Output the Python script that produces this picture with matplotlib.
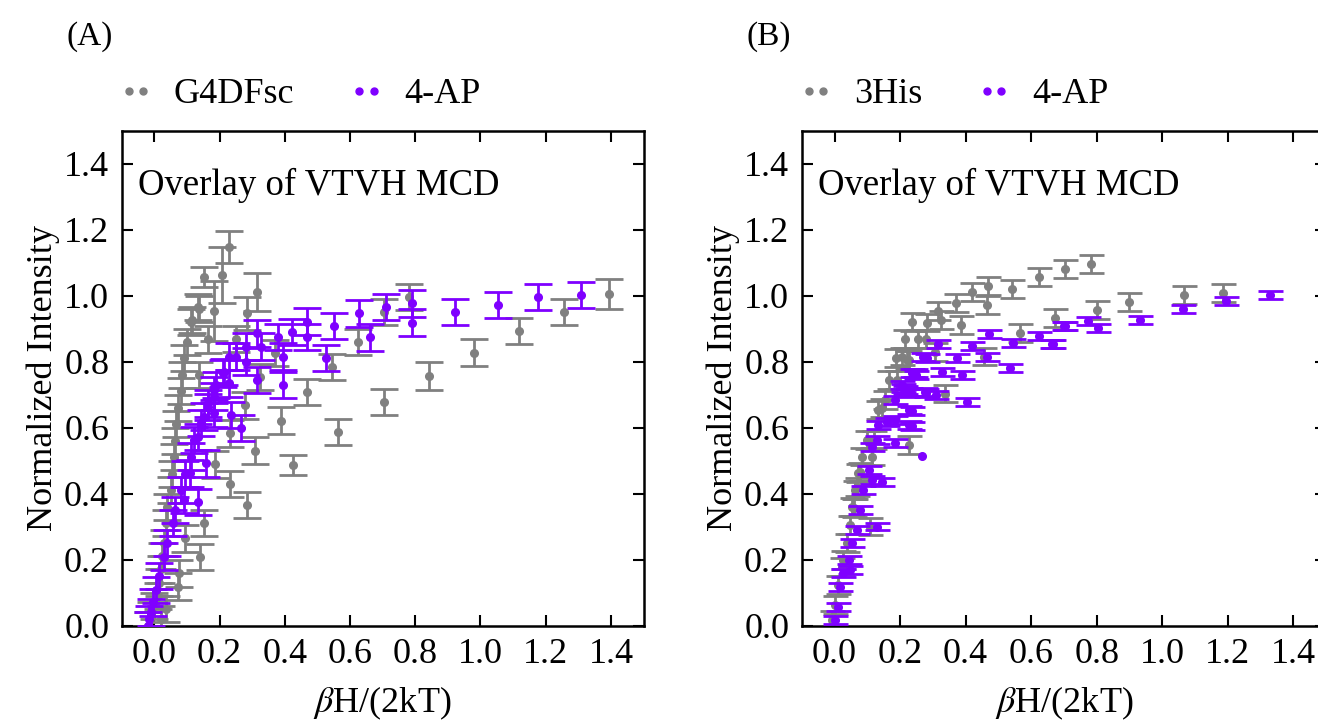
import numpy as np
import matplotlib
matplotlib.use("Agg")
from matplotlib import pyplot as plt
from matplotlib.lines import Line2D

plt.rcParams['font.family'] = ['Liberation Serif', 'DejaVu Serif']
plt.rcParams['mathtext.fontset'] = 'stix'

GREY = '#808080'
PURPLE = '#7f00ff'

# ---- panel A : G4DFsc (grey) ----
a_grey_x = [-0.02, -0.01, 0.0, 0.01, 0.015, 0.02, 0.025, 0.03, 0.036, 0.04, 0.051, 0.055,
            0.061, 0.064, 0.066, 0.072, 0.082, 0.086, 0.092, 0.10, 0.112, 0.133,
            0.072, 0.077, 0.095, 0.02, 0.035,
            0.230, 0.208, 0.153, 0.314, 0.138, 0.184, 0.284, 0.116, 0.164, 0.252, 0.371,
            0.138, 0.324, 0.279, 0.467, 0.389, 0.232, 0.310, 0.563, 0.544, 0.425, 0.187,
            0.233, 0.283, 0.153, 0.141, 0.624, 0.704, 0.704, 0.780, 0.842, 0.980, 1.117,
            1.255, 1.393]
a_grey_y = [0.0, 0.03, 0.06, 0.09, 0.13, 0.17, 0.21, 0.25, 0.31, 0.36, 0.41, 0.46,
            0.51, 0.56, 0.61, 0.66, 0.71, 0.76, 0.81, 0.86, 0.92, 0.966,
            0.118, 0.158, 0.264, 0.02, 0.05,
            1.148, 1.062, 1.057, 1.010, 0.959, 0.953, 0.947, 0.926, 0.867, 0.869, 0.825,
            0.759, 0.754, 0.667, 0.708, 0.621, 0.582, 0.530, 0.586, 0.784, 0.486, 0.488,
            0.428, 0.365, 0.310, 0.208, 0.860, 0.951, 0.677, 0.996, 0.756, 0.827, 0.892,
            0.950, 1.004]
a_grey_err = [0.04] * 27 + [0.049, 0.085, 0.03, 0.058, 0.04, 0.09, 0.05, 0.04, 0.04, 0.04, 0.04,
                            0.04, 0.04, 0.04, 0.04, 0.04, 0.04, 0.04, 0.04, 0.04, 0.03, 0.04,
                            0.04, 0.04, 0.04, 0.04, 0.04, 0.04, 0.04, 0.04, 0.043, 0.04, 0.04,
                            0.04, 0.045]

# ---- panel A : 4-AP (purple) ----
a_pur_x = [-0.02, -0.015, -0.01, -0.005, 0.005, 0.015, 0.031, 0.04, 0.056, 0.065, 0.082,
           0.095, 0.113, 0.123, 0.143, 0.164, 0.184, 0.21, 0.23,
           0.55, 0.527, 0.468, 0.468, 0.421, 0.378, 0.394, 0.394, 0.327, 0.315, 0.315,
           0.281, 0.281, 0.25, 0.215, 0.23, 0.189, 0.184, 0.164, 0.235, 0.266, 0.184,
           0.153, 0.133, 0.158, 0.108, 0.133, 0.092, 0.629, 0.66, 0.711, 0.79, 0.79,
           0.922, 1.053, 1.176, 1.309]
a_pur_y = [0.0, 0.02, 0.04, 0.07, 0.108, 0.15, 0.209, 0.25, 0.31, 0.35, 0.411,
           0.46, 0.512, 0.562, 0.613, 0.663, 0.714, 0.764, 0.815,
           0.908, 0.81, 0.921, 0.875, 0.89, 0.875, 0.815, 0.729, 0.845, 0.885, 0.744,
           0.8, 0.845, 0.815, 0.769, 0.734, 0.729, 0.694, 0.673, 0.638, 0.598, 0.643,
           0.633, 0.572, 0.491, 0.461, 0.375, 0.38, 0.946, 0.873, 0.966, 0.976, 0.918,
           0.951, 0.971, 0.996, 1.002]
a_pur_err = [0.04] * len(a_pur_x)

# ---- panel B : 3His (grey) ----
b_grey_x = [-0.008, 0.002, 0.012, 0.022, 0.027, 0.037, 0.048, 0.053, 0.058, 0.063, 0.068,
            0.073, 0.078, 0.083, 0.099, 0.109, 0.114, 0.119, 0.134, 0.144, 0.153, 0.165,
            0.19, 0.187, 0.206, 0.221, 0.226, 0.226, 0.214, 0.236, 0.254, 0.278, 0.282,
            0.307, 0.317, 0.325, 0.338, 0.371, 0.386, 0.419, 0.455, 0.465, 0.468, 0.543,
            0.566, 0.623, 0.673, 0.704, 0.783, 0.8, 0.9, 1.068, 1.187]
b_grey_y = [0.017, 0.062, 0.123, 0.178, 0.199, 0.249, 0.305, 0.36, 0.355, 0.41, 0.421,
            0.461, 0.466, 0.512, 0.562, 0.3, 0.512, 0.562, 0.653, 0.658, 0.683, 0.744,
            0.744, 0.81, 0.815, 0.805, 0.547, 0.804, 0.868, 0.921, 0.868, 0.868, 0.918,
            0.83, 0.954, 0.926, 0.703, 0.978, 0.911, 1.01, 0.815, 0.971, 1.028, 1.021,
            0.887, 1.055, 0.933, 1.081, 1.095, 0.956, 0.981, 1.001, 1.007]
b_grey_err = [0.027] * len(b_grey_x)

# ---- panel B : 4-AP (purple) ----
b_pur_x = [0.002, 0.012, 0.017, 0.027, 0.043, 0.048, 0.053, 0.068, 0.078, 0.088, 0.104,
           0.114, 0.114, 0.129, 0.129, 0.134, 0.144, 0.16, 0.185, 0.185, 0.185, 0.206,
           0.216, 0.21, 0.221, 0.226, 0.226, 0.231, 0.236, 0.236, 0.236, 0.246, 0.248,
           0.271, 0.277, 0.279, 0.282, 0.309, 0.315, 0.329, 0.373, 0.388, 0.404, 0.421,
           0.465, 0.47, 0.536, 0.546, 0.623, 0.663, 0.668, 0.7, 0.702, 0.775, 0.803,
           0.932, 1.064, 1.194, 1.33]
b_pur_y = [0.017, 0.057, 0.118, 0.158, 0.199, 0.168, 0.249, 0.289, 0.35, 0.411, 0.471,
           0.441, 0.542, 0.562, 0.3, 0.608, 0.436, 0.618, 0.623, 0.683, 0.552, 0.729,
           0.714, 0.719, 0.704, 0.608, 0.653, 0.709, 0.764, 0.651, 0.605, 0.764, 0.759,
           0.814, 0.709, 0.706, 0.812, 0.698, 0.853, 0.767, 0.812, 0.759, 0.678, 0.847,
           0.815, 0.883, 0.779, 0.855, 0.877, 0.852, 0.852, 0.909, 0.909, 0.923, 0.901,
           0.926, 0.958, 0.984, 1.001]
b_pur_err = [0.012] * len(b_pur_x)
b_bare_x = [0.268]
b_bare_y = [0.515]

xticks = [0.0, 0.2, 0.4, 0.6, 0.8, 1.0, 1.2, 1.4]
yticks = [0.0, 0.2, 0.4, 0.6, 0.8, 1.0, 1.2, 1.4]

fig = plt.figure(figsize=(13.18, 7.26), dpi=100)
axA = fig.add_axes([0.0923, 0.1384, 0.396, 0.6818])
axB = fig.add_axes([0.6083, 0.1384, 0.3978, 0.6818])


def panel(ax, gx, gy, ge, px, py, pe, grey_name, letter, gcap, pcap):
    ax.errorbar(gx, gy, yerr=ge, fmt='o', color=GREY, ms=5.5, elinewidth=2.0,
                capsize=gcap, capthick=2.0, zorder=2)
    ax.errorbar(px, py, yerr=pe, fmt='o', color=PURPLE, ms=5.5, elinewidth=2.0,
                capsize=pcap, capthick=2.0, zorder=3)
    ax.set_xlim(-0.1, 1.5)
    ax.set_ylim(0.0, 1.5)
    ax.set_xticks(xticks)
    ax.set_yticks(yticks)
    ax.set_xticklabels(['%.1f' % v for v in xticks])
    ax.set_yticklabels(['%.1f' % v for v in yticks])
    ax.tick_params(direction='in', top=True, right=True, length=8, width=1.5,
                   labelsize=26, pad=9)
    for s in ax.spines.values():
        s.set_linewidth(1.8)
    ax.set_xlabel(r'$\beta$H/(2kT)', fontsize=26, labelpad=10)
    ax.set_ylabel('Normalized Intensity', fontsize=26, labelpad=3)
    ax.text(0.031, 1.305, 'Overlay of VTVH MCD', fontsize=26.5,
            transform=ax.get_yaxis_transform(), va='baseline')
    handles = [Line2D([], [], ls='none', marker='o', color=GREY, ms=5),
               Line2D([], [], ls='none', marker='o', color=PURPLE, ms=5)]
    ax.legend(handles, [grey_name, '4-AP'], loc='lower left', bbox_to_anchor=(-0.035, 1.01),
              ncol=2, frameon=False, numpoints=2, fontsize=26, handlelength=1.0,
              handletextpad=0.55, columnspacing=1.5, borderaxespad=0)
    ax.text(-0.105, 1.19, letter, transform=ax.transAxes, fontsize=24, ha='left', va='center')


panel(axA, a_grey_x, a_grey_y, a_grey_err, a_pur_x, a_pur_y, a_pur_err, 'G4DFsc', '(A)', 10, 10)
panel(axB, b_grey_x, b_grey_y, b_grey_err, b_pur_x, b_pur_y, b_pur_err, '3His', '(B)', 9, 9)
axB.plot(b_bare_x, b_bare_y, 'o', color=PURPLE, ms=5.5, zorder=3)

fig.savefig('out.png', dpi=100)
